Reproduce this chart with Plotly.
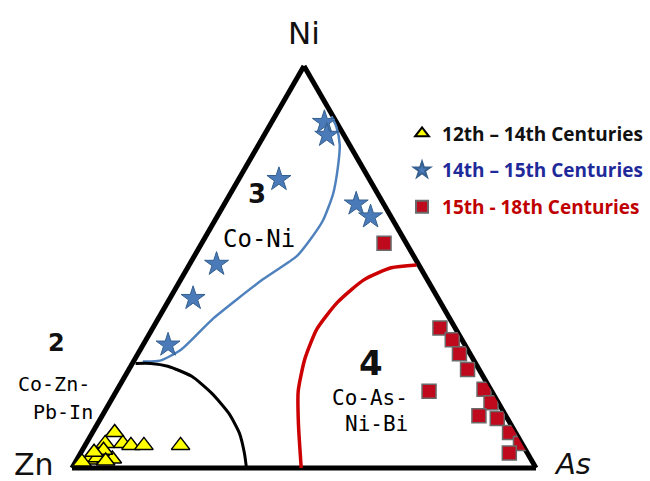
import plotly.graph_objects as go

# ---- Data: compositions (percent Ni, Zn, As) ----
# 12th - 14th Centuries (triangles)
c12_ni = [8.8, 6.1, 6.1, 5.6, 5.6, 5.6, 2.0, 2.5, 2.2, 4.4, 1.5, 3.9, 1.7]
c12_zn = [86.4, 89.8, 86.0, 84.5, 81.7, 73.8, 95.3, 93.3, 90.2, 91.0, 97.1, 93.3, 91.9]
c12_as = [4.8, 4.1, 7.9, 9.9, 12.7, 20.6, 2.7, 4.2, 7.6, 4.6, 1.4, 2.8, 6.4]

# 14th - 15th Centuries (stars)
c14_ni = [86.0, 82.8, 71.8, 65.7, 62.5, 50.7, 42.2, 30.6]
c14_zn = [2.6, 3.7, 19.5, 5.9, 4.4, 43.5, 52.8, 64.0]
c14_as = [11.4, 13.5, 8.7, 28.4, 33.1, 5.8, 5.0, 5.4]

# 15th - 18th Centuries (squares)
c15_ni = [55.9, 34.8, 31.9, 28.4, 24.5, 19.6, 16.2, 13.0, 12.3, 8.8, 6.1, 3.7, 19.1]
c15_zn = [4.8, 3.3, 2.1, 2.3, 2.5, 1.4, 1.6, 5.8, 2.2, 1.3, 0.3, 3.9, 13.5]
c15_as = [39.3, 61.9, 66.0, 69.3, 73.0, 79.0, 82.2, 81.2, 85.5, 89.9, 93.6, 92.4, 67.4]

# Field boundaries (Ni, Zn, As)
blue_ni = [26.5, 26.7, 29.4, 37.3, 46.8, 52.7, 56.6, 61.5, 68.1, 74.8, 80.4, 84.8, 87.5]
blue_zn = [71.5, 67.7, 61.8, 50.9, 35.6, 25.2, 20.5, 15.2, 9.7, 5.3, 2.1, 0.6, 0.3]
blue_as = [2.0, 5.6, 8.8, 11.9, 17.6, 22.1, 22.9, 23.3, 22.2, 19.9, 17.5, 14.6, 12.2]

black_ni = [26.0, 26.0, 25.3, 22.8, 18.6, 13.5, 8.6, 3.7, 0.0]
black_zn = [73.3, 70.0, 66.7, 62.8, 60.6, 59.4, 59.6, 61.0, 62.4]
black_as = [0.7, 4.0, 8.0, 14.4, 20.8, 27.1, 31.8, 35.3, 37.6]

red_ni = [50.5, 49.8, 46.8, 41.2, 34.6, 27.2, 19.1, 11.0, 0.0]
red_zn = [0.5, 6.3, 13.7, 22.2, 29.9, 36.2, 41.7, 45.7, 50.6]
red_as = [49.0, 43.9, 39.5, 36.6, 35.5, 36.6, 39.2, 43.3, 49.4]

series_names = ["12th – 14th Centuries", "14th – 15th Centuries", "15th - 18th Centuries"]
legend_colors = ["#111111", "#1f2a9a", "#c00000"]

W, H = 650, 481

fig = go.Figure()

for a, b, c, col, wid in [
    (blue_ni, blue_zn, blue_as, "#4f81bd", 2.5),
    (black_ni, black_zn, black_as, "#000000", 3),
    (red_ni, red_zn, red_as, "#cc0000", 3.5),
]:
    fig.add_trace(go.Scatterternary(
        a=a, b=b, c=c, mode="lines", showlegend=False, hoverinfo="skip",
        line=dict(color=col, width=wid, shape="spline", smoothing=0.6),
    ))

fig.add_trace(go.Scatterternary(
    a=c12_ni, b=c12_zn, c=c12_as, mode="markers",
    name=f"<span style='color:{legend_colors[0]}'><b>{series_names[0]}</b></span>",
    legendgroup="g1",
    marker=dict(symbol="triangle-up", size=16, color="#ffff00",
                line=dict(color="#000000", width=1.5)),
))
fig.add_trace(go.Scatterternary(
    a=c14_ni, b=c14_zn, c=c14_as, mode="markers",
    name=f"<span style='color:{legend_colors[1]}'><b>{series_names[1]}</b></span>",
    legendgroup="g2",
    marker=dict(symbol="star", size=18, color="#4a7ab8",
                line=dict(color="#35608f", width=1)),
))
fig.add_trace(go.Scatterternary(
    a=c15_ni, b=c15_zn, c=c15_as, mode="markers",
    name=f"<span style='color:{legend_colors[2]}'><b>{series_names[2]}</b></span>",
    legendgroup="g3",
    marker=dict(symbol="square", size=14, color="#bf0a1e",
                line=dict(color="#6a6a6a", width=1.5)),
))

axis_style = dict(
    showgrid=False, showticklabels=False, ticks="", showline=True,
    linecolor="#000000", linewidth=5, layer="below traces", title=dict(text=""),
    min=0,
)

def px(x, y):
    return x / W, 1 - y / H

annos = []
def add_text(text, x, y, size, family="DejaVu Sans", color="#111111", bold=False, italic=False, xanchor="center"):
    t = text
    if bold:
        t = f"<b>{t}</b>"
    if italic:
        t = f"<i>{t}</i>"
    xx, yy = px(x, y)
    annos.append(dict(text=t, x=xx, y=yy, xref="paper", yref="paper",
                      xanchor=xanchor, yanchor="middle", showarrow=False,
                      font=dict(size=size, family=family, color=color)))

add_text("Ni", 304, 33, 31)
add_text("Zn", 34, 464, 30)
add_text("As", 572, 464, 29, italic=True)
add_text("3", 257, 194, 26, bold=True)
add_text("Co-Ni", 259, 239, 24, family="DejaVu Sans Mono", color="#000000")
add_text("2", 56, 343, 24, bold=True)
add_text("Co-Zn-", 92, 384, 20, family="DejaVu Sans Mono", color="#000000", xanchor="right")
add_text("Pb-In", 95, 412, 20, family="DejaVu Sans Mono", color="#000000", xanchor="right")
add_text("4", 371, 363, 34, bold=True)
add_text("Co-As-", 410, 398, 21, family="DejaVu Sans Mono", color="#000000", xanchor="right")
add_text("Ni-Bi", 410, 424, 21, family="DejaVu Sans Mono", color="#000000", xanchor="right")

fig.update_layout(
    width=W, height=H,
    margin=dict(l=0, r=0, t=0, b=0, autoexpand=False),
    paper_bgcolor="white",
    ternary=dict(
        sum=100,
        bgcolor="white",
        domain=dict(x=[72 / W, 536 / W], y=[(H - 468) / H, (H - 66) / H]),
        aaxis=axis_style, baxis=axis_style, caxis=axis_style,
    ),
    showlegend=True,
    legend=dict(x=0.6185, y=0.762, xanchor="left", yanchor="top",
                bgcolor="rgba(0,0,0,0)", traceorder="grouped", tracegroupgap=9,
                font=dict(family="Open Sans", size=19), itemsizing="constant"),
    annotations=annos,
)

fig.write_html("out.html", config={"displayModeBar": False},
               post_script="document.body.style.margin='0px';")
